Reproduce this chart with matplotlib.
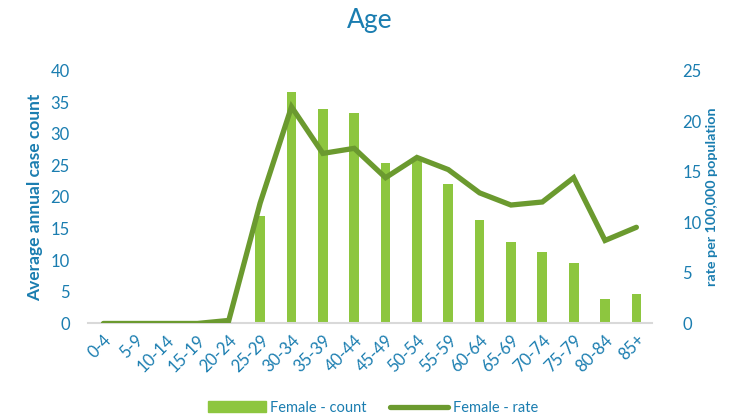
import matplotlib
matplotlib.use("Agg")
import matplotlib.pyplot as plt
from matplotlib.lines import Line2D
from matplotlib.patches import Patch

age_groups = ["0-4", "5-9", "10-14", "15-19", "20-24", "25-29", "30-34", "35-39",
              "40-44", "45-49", "50-54", "55-59", "60-64", "65-69", "70-74",
              "75-79", "80-84", "85+"]
female_count = [0, 0, 0, 0, 0, 17.0, 36.6, 33.9, 33.2, 25.3, 25.8, 22.0, 16.3,
                12.9, 11.3, 9.6, 3.9, 4.6]
female_rate = [0, 0, 0, 0, 0.3, 11.9, 21.4, 16.8, 17.3, 14.4, 16.4, 15.2, 12.9,
               11.7, 12.0, 14.4, 8.2, 9.5]

BLUE = "#1A7DB0"
BAR_GREEN = "#8DC63F"
LINE_GREEN = "#6B9A2F"

plt.rcParams["font.family"] = ["Lato", "DejaVu Sans"]

fig = plt.figure(figsize=(7.31, 4.19), dpi=100)
ax = fig.add_axes([0.120, 0.228, 0.772, 0.604])
ax2 = ax.twinx()

x = list(range(len(age_groups)))
ax.bar(x, female_count, width=0.31, color=BAR_GREEN, zorder=2)
ax2.plot(x, female_rate, color=LINE_GREEN, linewidth=3.8, solid_capstyle="round",
         solid_joinstyle="miter", zorder=3)

ax.set_xlim(-0.5, len(age_groups) - 0.5)
ax.set_ylim(0, 40)
ax2.set_ylim(0, 25)
ax.set_yticks(range(0, 41, 5))
ax2.set_yticks(range(0, 26, 5))
ax.set_xticks(x)
ax.set_xticklabels(age_groups, rotation=45, ha="right", rotation_mode="anchor",
                   fontsize=10.5, color=BLUE)

for a in (ax, ax2):
    for s in a.spines.values():
        s.set_visible(False)
    a.tick_params(length=0, colors=BLUE, labelsize=12)
ax.spines["bottom"].set_visible(True)
ax.spines["bottom"].set_color("#D9D9D9")
ax.spines["bottom"].set_linewidth(1.5)
ax.tick_params(axis="y", pad=13)
ax2.tick_params(axis="y", pad=22)
ax.tick_params(axis="x", pad=6)

ax.set_ylabel("Average annual case count", color=BLUE, fontsize=12.5,
              fontweight="bold", labelpad=5)
ax2.set_ylabel("rate per 100,000 population", color=BLUE, fontsize=10.3,
               fontweight="bold", labelpad=3)

fig.text(0.506, 0.95, "Age", ha="center", va="center", color=BLUE, fontsize=19)

handles = [Patch(color=BAR_GREEN, label="Female - count"),
           Line2D([0], [0], color=LINE_GREEN, linewidth=3.8, solid_capstyle="round",
                  label="Female - rate")]
fig.legend(handles=handles, loc="center", bbox_to_anchor=(0.51, 0.027), ncol=2,
           frameon=False, fontsize=10.5, labelcolor=BLUE, handlelength=4.0,
           handleheight=0.7, columnspacing=1.6, handletextpad=0.3)

fig.savefig("out.png", dpi=100)
